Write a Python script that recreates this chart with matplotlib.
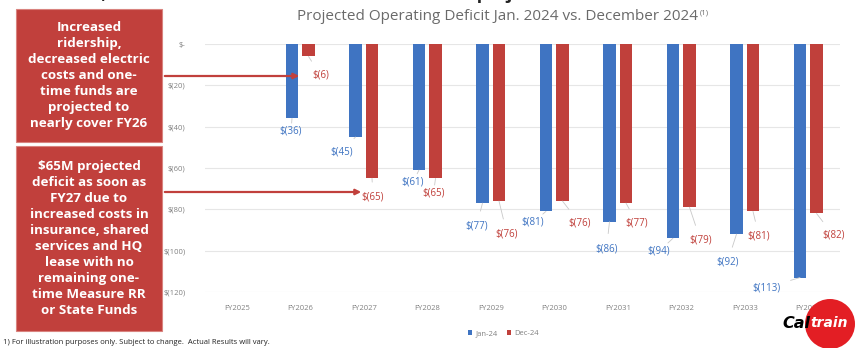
import matplotlib.pyplot as plt
import numpy as np
from matplotlib.patches import Rectangle, Circle, FancyArrowPatch

years = ["FY2025", "FY2026", "FY2027", "FY2028", "FY2029",
         "FY2030", "FY2031", "FY2032", "FY2033", "FY2034"]
jan24 = [0, -36, -45, -61, -77, -81, -86, -94, -92, -113]
dec24 = [0, -6, -65, -65, -76, -76, -77, -79, -81, -82]
yticks = [0, -20, -40, -60, -80, -100, -120]
ytick_labels = ["$-", "$(20)", "$(40)", "$(60)", "$(80)", "$(100)", "$(120)"]

box1_text = ("Increased\nridership,\ndecreased electric\ncosts and one-\n"
             "time funds are\nprojected to\nnearly cover FY26")
box2_text = ("$65M projected\ndeficit as soon as\nFY27 due to\nincreased costs in\n"
             "insurance, shared\nservices and HQ\nlease with no\nremaining one-\n"
             "time Measure RR\nor State Funds")

# label offsets in pixels (dx, dy) from the bottom of each bar
jan_off = [(0, 0), (-1, -13), (-14, -15), (-6, -12), (-6, -23), (-13, -11),
           (-3, -27), (-14, -13), (-9, -28), (-33, -10)]
dec_off = [(0, 0), (12, -19), (1, -19), (-2, -15), (8, -33), (17, -22),
           (11, -20), (11, -33), (6, -25), (17, -22)]

BLUE = "#3F74C2"
RED = "#C0403B"
BOXRED = "#C1403C"
GREY = "#808080"

plt.rcParams['font.family'] = ['Open Sans', 'DejaVu Sans']

fig = plt.figure(figsize=(8.64, 3.48), dpi=100)
W, H = 864.0, 348.0

ax = fig.add_axes([205 / W, 1 - 292 / H, 635 / W, 248 / H])
x = np.arange(len(years))
w = 0.2
ax.bar(x - 0.13, jan24, w, color=BLUE, label="Jan-24")
ax.bar(x + 0.13, dec24, w, color=RED, label="Dec-24")

for i in range(len(years)):
    for val, xo, off, col in ((jan24[i], x[i] - 0.13, jan_off[i], BLUE),
                              (dec24[i], x[i] + 0.13, dec_off[i], RED)):
        if val == 0:
            continue
        ax.annotate("$(%d)" % -val, (xo, val), xytext=off, textcoords="offset pixels",
                    ha="center", va="center", fontsize=7, color=col,
                    arrowprops=dict(arrowstyle="-", color="#c8c8c8", lw=0.6,
                                    shrinkA=5, shrinkB=0))

ax.set_xlim(-0.5, len(years) - 0.5)
ax.set_ylim(-120, 0)
ax.set_yticks(yticks)
ax.set_yticklabels(ytick_labels, fontsize=5.5, color=GREY)
ax.set_xticks(x)
ax.set_xticklabels(years, fontsize=5.5, color=GREY)
ax.tick_params(length=0, axis="x", pad=9)
ax.tick_params(length=0, axis="y", pad=14)
ax.grid(axis="y", color="#e6e6e6", lw=0.8)
ax.set_axisbelow(True)
for s in ax.spines.values():
    s.set_visible(False)
ax.legend(loc="upper center", bbox_to_anchor=(0.47, -0.125), ncol=2, frameon=False,
          fontsize=5.5, labelcolor=GREY, handlelength=0.6, handleheight=0.6,
          columnspacing=1.2, handletextpad=0.4)

# cut-off headline at the very top (only its lower edge shows, as in the source slide)
fig.text(45 / W, 1.016, "deficit, due to increased revenue and lower cost projections",
         fontsize=13, fontweight="bold", color="#222222", va="center", ha="left")

fig.text(498 / W, 1 - 17 / H, "Projected Operating Deficit Jan. 2024 vs. December 2024",
         fontsize=11, color="#6a6a6a", ha="center", va="center")
fig.text(700 / W, 1 - 13 / H, "(1)", fontsize=5.5, color="#6a6a6a", ha="left", va="center")

# red call-out boxes
for (y0, y1, txt) in ((9, 142, box1_text), (146, 331, box2_text)):
    fig.patches.append(Rectangle((16 / W, 1 - y1 / H), 146 / W, (y1 - y0) / H,
                                 transform=fig.transFigure, facecolor=BOXRED,
                                 edgecolor="#d9837f", lw=0.8))
    fig.text(89 / W, 1 - (y0 + y1) / 2 / H, txt, color="white", fontsize=9.6,
             fontweight="bold", ha="center", va="center", linespacing=1.3)

for (yy, xe) in ((76, 302), (192, 364)):
    fig.patches.append(FancyArrowPatch((162 / W, 1 - yy / H), (xe / W, 1 - yy / H),
                                       transform=fig.transFigure, arrowstyle="-|>",
                                       mutation_scale=8, color=BOXRED, lw=1.6))

fig.text(3 / W, 1 - 342 / H,
         "1) For illustration purposes only. Subject to change.  Actual Results will vary.",
         fontsize=5.5, color="#222222", ha="left", va="center")

# Caltrain logo
fig.patches.append(Circle((830 / 100, (H - 324) / 100), 25 / 100,
                          transform=fig.dpi_scale_trans,
                          facecolor="#E31E24", edgecolor="none"))
fig.text(810 / W, 1 - 323 / H, "Cal", fontsize=11.5, fontweight="bold", style="italic",
         color="black", ha="right", va="center", family="DejaVu Sans")
fig.text(810 / W, 1 - 323 / H, "train", fontsize=10, fontweight="bold", style="italic",
         color="white", ha="left", va="center", family="DejaVu Sans")

fig.savefig("out.png", dpi=100)
